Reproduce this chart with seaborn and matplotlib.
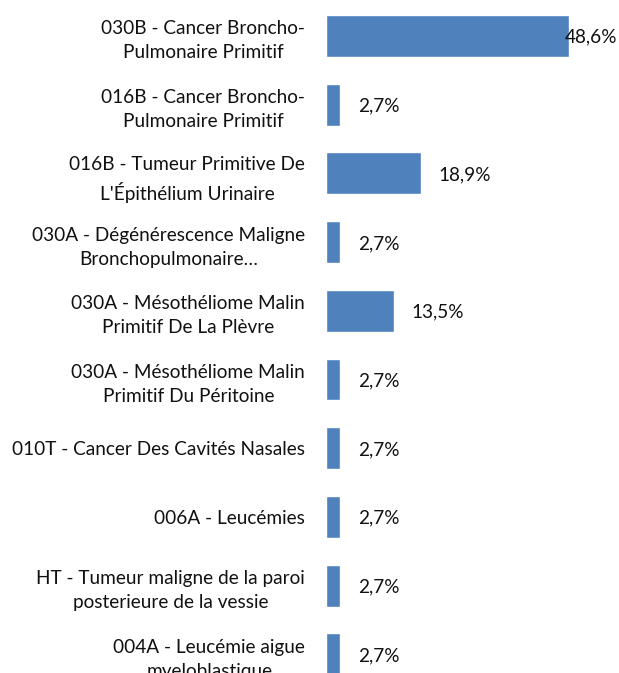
import pandas as pd
import seaborn as sns
import matplotlib.pyplot as plt

categories = [
    "030B - Cancer Broncho-\nPulmonaire Primitif",
    "016B - Cancer Broncho-\nPulmonaire Primitif",
    "016B - Tumeur Primitive De\nL'Épithélium Urinaire",
    "030A - Dégénérescence Maligne\nBronchopulmonaire…",
    "030A - Mésothéliome Malin\nPrimitif De La Plèvre",
    "030A - Mésothéliome Malin\nPrimitif Du Péritoine",
    "010T - Cancer Des Cavités Nasales",
    "006A - Leucémies",
    "HT - Tumeur maligne de la paroi\nposterieure de la vessie",
    "004A - Leucémie aigue\nmyeloblastique",
]
values = [48.6, 2.7, 18.9, 2.7, 13.5, 2.7, 2.7, 2.7, 2.7, 2.7]
value_labels = ["48,6%", "2,7%", "18,9%", "2,7%", "13,5%", "2,7%", "2,7%", "2,7%", "2,7%", "2,7%"]

df = pd.DataFrame({"cat": categories, "val": values})

sns.set_style("white")
plt.rcParams['font.family'] = ['Lato', 'DejaVu Sans']

fig = plt.figure(figsize=(6.19, 6.73), dpi=100)
ax = fig.add_axes([0.5267, -0.0232, 0.4733, 1.0208])

sns.barplot(data=df, y="cat", x="val", orient="h", color="#4F81BD",
            width=0.61, saturation=1, ax=ax)

ax.set_xlim(0, 58.6)
ax.set_ylim(9.5, -0.5)
ax.set_xlabel("")
ax.set_ylabel("")
ax.set_xticks([])
for s in ax.spines.values():
    s.set_visible(False)

ax.tick_params(axis="y", length=0, pad=15, labelsize=13.7, labelcolor="#111111")
for t in ax.get_yticklabels():
    t.set_multialignment("center")
    t.set_linespacing(1.5)

for i, (v, lab) in enumerate(zip(values, value_labels)):
    off = -3 if v > 40 else 13
    ax.annotate(lab, (v, i), xytext=(off, -1), textcoords="offset points",
                va="center", ha="left", fontsize=13.7, color="#111111")

fig.savefig("out.png", dpi=100)
